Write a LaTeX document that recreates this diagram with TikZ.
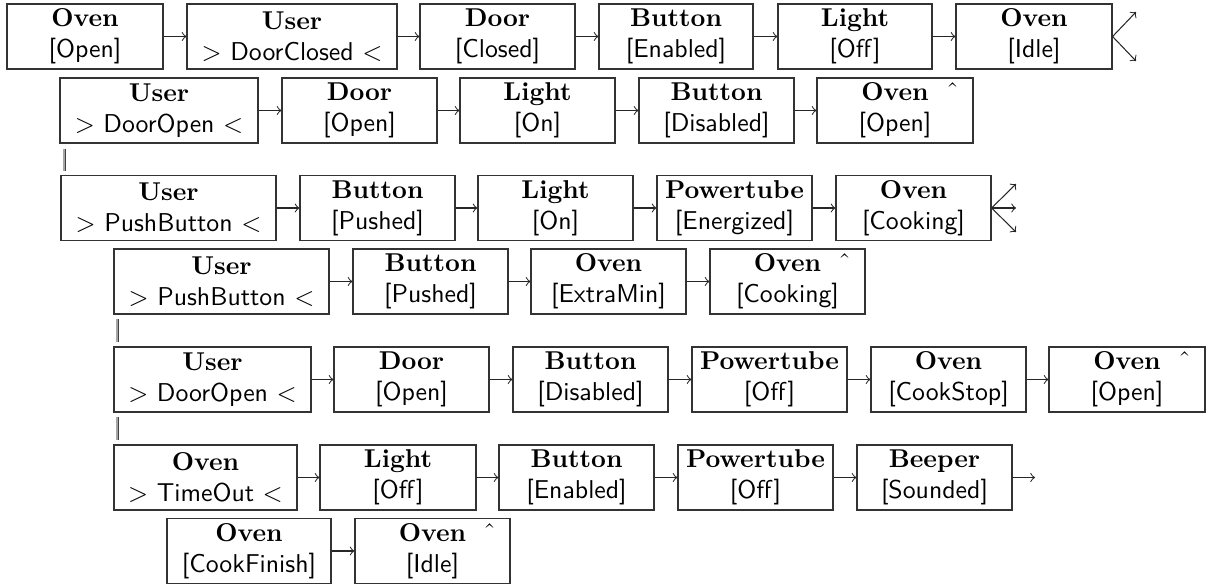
\documentclass[tikz,border=0pt]{standalone}
\usetikzlibrary{calc}
\newcommand\pxu{0.3876pt}
\begin{document}
\begin{tikzpicture}[x=\pxu, y=-\pxu,
  box/.style={draw=black!80, line width=0.45pt, minimum width=#1*\pxu, minimum height=65*\pxu, inner xsep=1pt, inner ysep=0pt, align=center},
  box/.default=155,
  conn/.style={->, draw=black!85, line width=0.4pt},
  bar/.style={draw=black!75, double=black!35, double distance=0.75pt, line width=0.3pt},
  hatmark/.style={inner sep=0pt, anchor=north}]
\useasboundingbox (0,0) rectangle (1208,586);
% Row 1
\node[box=156] (a1) at (85,36.5) {\textbf{Oven}\\\textsf{[Open]}};
\node[box=210] (a2) at (292,36.5) {\textbf{User}\\$>$ \textsf{DoorClosed} $<$};
\node[box] (a3) at (497.5,36.5) {\textbf{Door}\\\textsf{[Closed]}};
\node[box=154] (a4) at (676,36.5) {\textbf{Button}\\\textsf{[Enabled]}};
\node[box=154] (a5) at (855,36.5) {\textbf{Light}\\\textsf{[Off]}};
\node[box=156] (a6) at (1034,36.5) {\textbf{Oven}\\\textsf{[Idle]}};
\coordinate (a6u) at (1136,12);
\coordinate (a6d) at (1136,61);
\draw[conn] (a1) -- (a2);
\draw[conn] (a2) -- (a3);
\draw[conn] (a3) -- (a4);
\draw[conn] (a4) -- (a5);
\draw[conn] (a5) -- (a6);
\draw[conn] (a6.east) -- (a6u);
\draw[conn] (a6.east) -- (a6d);
% Row 2
\node[box=198] (b1) at (159,110.5) {\textbf{User}\\$>$ \textsf{DoorOpen} $<$};
\node[box] (b2) at (359.5,110.5) {\textbf{Door}\\\textsf{[Open]}};
\node[box] (b3) at (537.5,110.5) {\textbf{Light}\\\textsf{[On]}};
\node[box] (b4) at (716.5,110.5) {\textbf{Button}\\\textsf{[Disabled]}};
\node[box=156] (b5) at (895,110.5) {\textbf{Oven}\\\textsf{[Open]}};
\node[hatmark] (bh) at ([shift={(-21,5)}]b5.north east) {\char"02C6};
\draw[conn] (b1) -- (b2);
\draw[conn] (b2) -- (b3);
\draw[conn] (b3) -- (b4);
\draw[conn] (b4) -- (b5);
% Row 3
\node[box=215] (c1) at (168.5,208) {\textbf{User}\\$>$ \textsf{PushButton} $<$};
\node[box] (c2) at (377.5,208) {\textbf{Button}\\\textsf{[Pushed]}};
\node[box] (c3) at (555.5,208) {\textbf{Light}\\\textsf{[On]}};
\node[box] (c4) at (734.5,208) {\textbf{Powertube}\\\textsf{[Energized]}};
\node[box] (c5) at (913.5,208) {\textbf{Oven}\\\textsf{[Cooking]}};
\coordinate (c5u) at (1016,184);
\coordinate (c5m) at (1016,208);
\coordinate (c5d) at (1016,232);
\draw[bar] ([shift={(5,5)}]b1.south west) -- ([shift={(4,-4)}]c1.north west);
\draw[conn] (c1) -- (c2);
\draw[conn] (c2) -- (c3);
\draw[conn] (c3) -- (c4);
\draw[conn] (c4) -- (c5);
\draw[conn] (c5.east) -- (c5u);
\draw[conn] (c5.east) -- (c5m);
\draw[conn] (c5.east) -- (c5d);
% Row 4
\node[box=215] (d1) at (221.5,281.5) {\textbf{User}\\$>$ \textsf{PushButton} $<$};
\node[box] (d2) at (430.5,281.5) {\textbf{Button}\\\textsf{[Pushed]}};
\node[box] (d3) at (608.5,281.5) {\textbf{Oven}\\\textsf{[ExtraMin]}};
\node[box] (d4) at (787.5,281.5) {\textbf{Oven}\\\textsf{[Cooking]}};
\node[hatmark] (dh) at ([shift={(-21,5)}]d4.north east) {\char"02C6};
\draw[conn] (d1) -- (d2);
\draw[conn] (d2) -- (d3);
\draw[conn] (d3) -- (d4);
% Row 5
\node[box=197] (e1) at (212.5,379.5) {\textbf{User}\\$>$ \textsf{DoorOpen} $<$};
\node[box] (e2) at (411.5,379.5) {\textbf{Door}\\\textsf{[Open]}};
\node[box] (e3) at (590.5,379.5) {\textbf{Button}\\\textsf{[Disabled]}};
\node[box] (e4) at (769.5,379.5) {\textbf{Powertube}\\\textsf{[Off]}};
\node[box] (e5) at (948.5,379.5) {\textbf{Oven}\\\textsf{[CookStop]}};
\node[box=156] (e6) at (1127,379.5) {\textbf{Oven}\\\textsf{[Open]}};
\node[hatmark] (eh) at ([shift={(-21,5)}]e6.north east) {\char"02C6};
\draw[bar] ([shift={(4,4)}]d1.south west) -- ([shift={(4,-4)}]e1.north west);
\draw[conn] (e1) -- (e2);
\draw[conn] (e2) -- (e3);
\draw[conn] (e3) -- (e4);
\draw[conn] (e4) -- (e5);
\draw[conn] (e5) -- (e6);
% Row 6
\node[box=183] (f1) at (205.5,477.5) {\textbf{Oven}\\$>$ \textsf{TimeOut} $<$};
\node[box=156] (f2) at (398,477.5) {\textbf{Light}\\\textsf{[Off]}};
\node[box] (f3) at (576.5,477.5) {\textbf{Button}\\\textsf{[Enabled]}};
\node[box] (f4) at (755.5,477.5) {\textbf{Powertube}\\\textsf{[Off]}};
\node[box] (f5) at (934.5,477.5) {\textbf{Beeper}\\\textsf{[Sounded]}};
\coordinate (f5r) at (1035,477.5);
\draw[bar] ([shift={(4,4)}]e1.south west) -- ([shift={(4,-4)}]f1.north west);
\draw[conn] (f1) -- (f2);
\draw[conn] (f2) -- (f3);
\draw[conn] (f3) -- (f4);
\draw[conn] (f4) -- (f5);
\draw[conn] (f5) -- (f5r);
% Row 7
\node[box=164] (g1) at (249,551) {\textbf{Oven}\\\textsf{[CookFinish]}};
\node[box] (g2) at (432.5,551) {\textbf{Oven}\\\textsf{[Idle]}};
\node[hatmark] (gh) at ([shift={(-21,5)}]g2.north east) {\char"02C6};
\draw[conn] (g1) -- (g2);
\end{tikzpicture}
\end{document}
